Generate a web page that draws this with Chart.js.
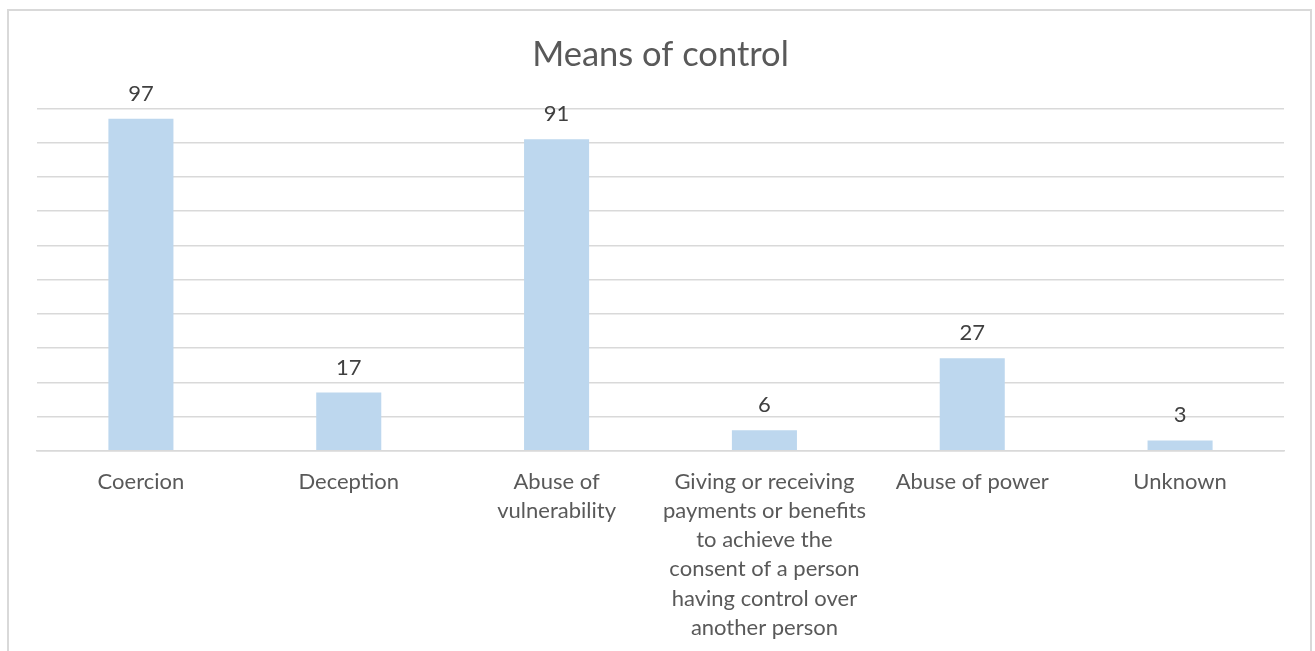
<!DOCTYPE html>
<html>
<head>
<meta charset="utf-8">
<title>Means of control</title>
<script src="https://cdn.jsdelivr.net/npm/chart.js@4.4.1/dist/chart.umd.min.js"></script>
<style>
  html, body { margin: 0; padding: 0; background: #fff; overflow: hidden; }
  #frame {
    position: absolute; left: 7px; top: 9px; width: 1301px; height: 700px;
    border: 2px solid #d9d9d9;
  }
  #wrap { position: absolute; left: 0; top: 0; width: 1315px; height: 666px; }
</style>
</head>
<body>
<div id="frame"></div>
<div id="wrap"><canvas id="chart"></canvas></div>
<script>
// Moyens de contrôle : nombre de cas par catégorie
const categories = [
  'Coercion',
  'Deception',
  ['Abuse of', 'vulnerability'],
  ['Giving or receiving', 'payments or benefits', 'to achieve the', 'consent of a person', 'having control over', 'another person'],
  'Abuse of power',
  'Unknown'
];
const values = [97, 17, 91, 6, 27, 3];
const yTicks = [0, 10, 20, 30, 40, 50, 60, 70, 80, 90, 100];

const FONT = 'Lato, "Open Sans", sans-serif';

// Étiquettes de valeur au-dessus des barres
const valueLabels = {
  id: 'valueLabels',
  afterDatasetsDraw(chart) {
    const ctx = chart.ctx;
    const meta = chart.getDatasetMeta(0);
    ctx.save();
    ctx.font = '22px ' + FONT;
    ctx.fillStyle = '#404040';
    ctx.textAlign = 'center';
    ctx.textBaseline = 'alphabetic';
    meta.data.forEach((bar, i) => {
      ctx.fillText(String(values[i]), bar.x, bar.y - 18);
    });
    ctx.restore();
  }
};

const ctx = document.getElementById('chart').getContext('2d');
new Chart(ctx, {
  type: 'bar',
  data: {
    labels: categories,
    datasets: [{
      label: 'Means of control',
      data: values,
      backgroundColor: '#bdd7ee',
      borderWidth: 0,
      barPercentage: 1,
      categoryPercentage: 0.313
    }]
  },
  options: {
    responsive: true,
    maintainAspectRatio: false,
    animation: false,
    layout: { padding: { left: 37, right: 31, top: 0, bottom: 15 } },
    plugins: {
      legend: { display: false },
      tooltip: { enabled: false },
      title: {
        display: true,
        text: 'Means of control',
        color: '#595959',
        font: { family: FONT, size: 34.5, weight: 'normal' },
        padding: { top: 34, bottom: 33 }
      }
    },
    scales: {
      x: {
        grid: { display: false },
        border: { display: true, color: '#d9d9d9', width: 1.5 },
        ticks: {
          color: '#595959',
          font: { family: FONT, size: 22, lineHeight: 1.32 },
          padding: 9,
          maxRotation: 0,
          autoSkip: false
        }
      },
      y: {
        min: 0,
        max: 100,
        afterBuildTicks: axis => { axis.ticks = yTicks.map(v => ({ value: v })); },
        ticks: { display: false },
        border: { display: false },
        grid: { color: '#d9d9d9', lineWidth: 1.5, drawTicks: false }
      }
    }
  },
  plugins: [valueLabels]
});
</script>
</body>
</html>
